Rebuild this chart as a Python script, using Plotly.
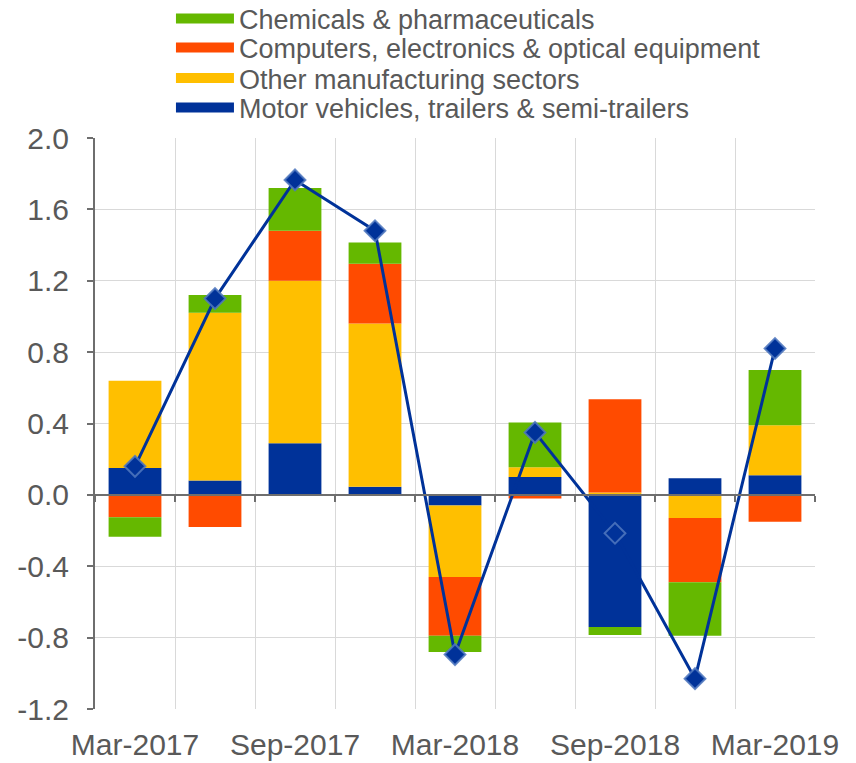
import plotly.graph_objects as go

# quarterly contributions (percentage points)
quarters = ["Mar-2017", "Jun-2017", "Sep-2017", "Dec-2017", "Mar-2018",
            "Jun-2018", "Sep-2018", "Dec-2018", "Mar-2019"]
motor = [0.15, 0.08, 0.29, 0.045, -0.06, 0.10, -0.74, 0.093, 0.11]
other = [0.49, 0.94, 0.91, 0.915, -0.40, 0.055, 0.013, -0.13, 0.28]
computers = [-0.125, -0.18, 0.28, 0.335, -0.33, -0.02, 0.523, -0.36, -0.15]
chemicals = [-0.11, 0.10, 0.24, 0.12, -0.09, 0.25, -0.045, -0.30, 0.31]
total = [0.16, 1.10, 1.765, 1.48, -0.895, 0.35, -0.215, -1.03, 0.82]

tick_labels = ["Mar-2017", "Sep-2017", "Mar-2018", "Sep-2018", "Mar-2019"]
y_ticks = [-1.2, -0.8, -0.4, 0.0, 0.4, 0.8, 1.2, 1.6, 2.0]
y_tick_labels = ["-1.2", "-0.8", "-0.4", "0.0", "0.4", "0.8", "1.2", "1.6", "2.0"]

BLUE = "#003299"
YELLOW = "#ffbf00"
ORANGE = "#ff4b00"
GREEN = "#65b800"
GREY_TXT = "#595959"
GRID = "#d9d9d9"
AXIS = "#6e6e6e"

x = list(range(len(quarters)))

fig = go.Figure()

# stacked bars (first trace sits closest to zero)
series = [
    ("Motor vehicles, trailers & semi-trailers", motor, BLUE),
    ("Other manufacturing sectors", other, YELLOW),
    ("Computers, electronics & optical equipment", computers, ORANGE),
    ("Chemicals & pharmaceuticals", chemicals, GREEN),
]
for name, vals, col in series:
    fig.add_trace(go.Bar(
        x=x, y=vals, name=name, marker_color=col,
        marker_line_width=0, showlegend=False,
        hovertemplate=name + ": %{y:.2f}<extra></extra>",
    ))

# legend: one legend per row so the row spacing can match the original
legend_ids = ["legend", "legend2", "legend3", "legend4"]
legend_y = [1.2084, 1.1576, 1.1042, 1.0525]
for (name, vals, col), lid in zip(series[::-1], legend_ids):
    fig.add_trace(go.Scatter(
        x=[None], y=[None], mode="lines", name=name,
        line=dict(color=col, width=15), legend=lid,
    ))

# total line with diamonds
fig.add_trace(go.Scatter(
    x=x, y=total, mode="lines+markers", name="Total",
    line=dict(color=BLUE, width=3),
    marker=dict(symbol="diamond", size=16, color=BLUE,
                line=dict(color="rgba(80,120,190,0.85)", width=2)),
    showlegend=False, xaxis="x2",
    hovertemplate="Total: %{y:.2f}<extra></extra>",
))

boundaries = [i - 0.5 for i in range(len(quarters) + 1)]

legend_style = dict(x=0.1055, xanchor="left", yanchor="middle",
                    itemwidth=58, font=dict(size=27),
                    bgcolor="rgba(0,0,0,0)", itemclick=False)

# page body adds 8px, so the figure is a bit smaller than the window
fig.update_layout(
    width=848, height=755,
    margin=dict(l=87, r=41, t=130, b=54, autoexpand=False),
    paper_bgcolor="white", plot_bgcolor="white",
    barmode="relative", bargap=0.34,
    font=dict(family="Liberation Sans, Arial, sans-serif", color=GREY_TXT),
    xaxis=dict(
        range=[-0.5, 8.5], tickvals=x[::2], ticktext=tick_labels,
        showgrid=False, zeroline=False, ticks="", automargin=False,
        tickfont=dict(size=30), ticklabelstandoff=15,
    ),
    xaxis2=dict(
        overlaying="x", anchor="free", position=0.375, automargin=False,
        range=[-0.5, 8.5], tickvals=boundaries, showticklabels=False,
        showgrid=True, gridcolor=GRID, gridwidth=1,
        showline=True, linecolor=AXIS, linewidth=2,
        ticks="outside", ticklen=6, tickwidth=2, tickcolor=AXIS,
        zeroline=False,
    ),
    yaxis=dict(
        range=[-1.2, 2.0], tickvals=y_ticks, ticktext=y_tick_labels,
        showgrid=True, gridcolor=GRID, gridwidth=1, zeroline=False,
        showline=True, linecolor=AXIS, linewidth=2, automargin=False,
        ticks="outside", ticklen=6, tickwidth=2, tickcolor=AXIS,
        tickfont=dict(size=30), ticklabelstandoff=12,
    ),
)
for lid, ly in zip(legend_ids, legend_y):
    fig.update_layout({lid: dict(legend_style, y=ly)})

fig.write_html("out.html")
